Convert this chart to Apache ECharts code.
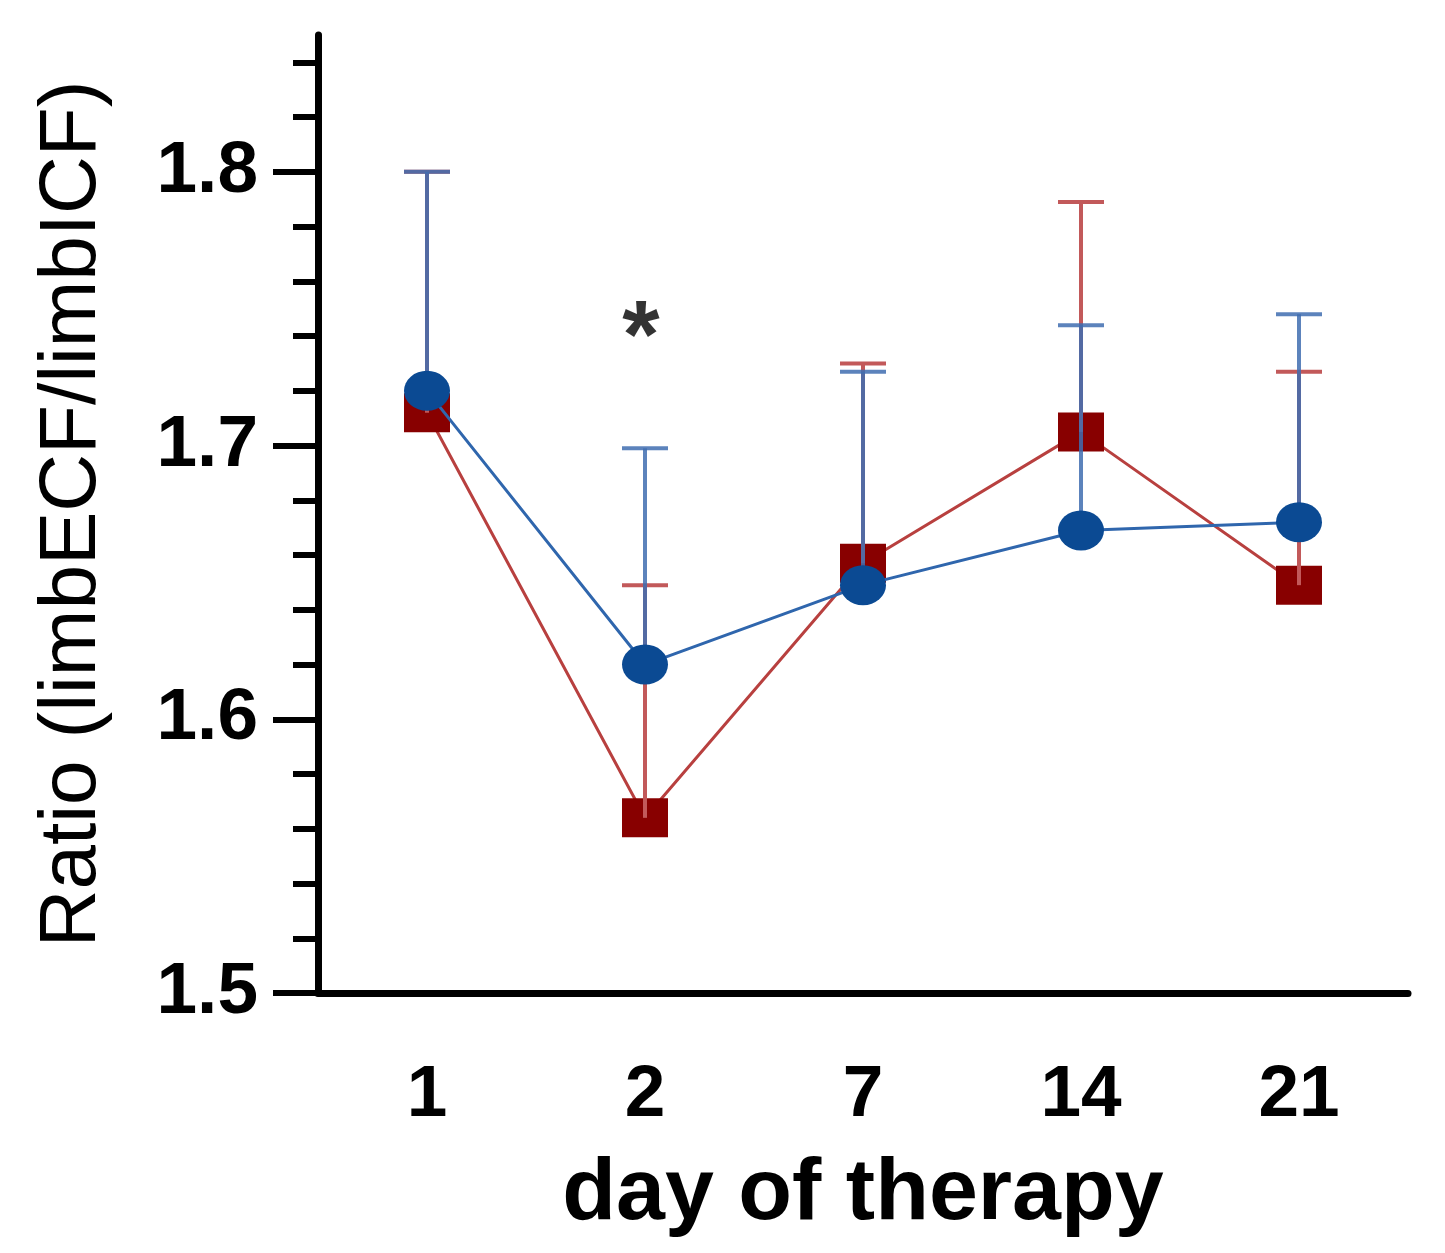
<!DOCTYPE html>
<html>
<head>
<meta charset="utf-8">
<title>limbECF/limbICF ratio</title>
<script src="https://cdn.jsdelivr.net/npm/echarts@6/dist/echarts.min.js"></script>
<style>
  html, body { margin: 0; padding: 0; background: #fff; }
  #main { width: 1445px; height: 1253px; }
</style>
</head>
<body>
<div id="main"></div>
<script>
// data
var days = ['1', '2', '7', '14', '21'];
var redMean = [1.712, 1.564, 1.657, 1.705, 1.649];
var redUpper = [1.800, 1.649, 1.730, 1.789, 1.727];
var blueMean = [1.720, 1.620, 1.649, 1.669, 1.672];
var blueUpper = [1.800, 1.699, 1.727, 1.744, 1.748];
// y axis ticks
var yMajor = [1.5, 1.6, 1.7, 1.8];
var yMinor = [1.52, 1.54, 1.56, 1.58, 1.62, 1.64, 1.66, 1.68,
              1.72, 1.74, 1.76, 1.78, 1.82, 1.84];
// significance mark
var starMarks = [[1, 1.745]];

var FONT = 'Liberation Sans';
var myChart = echarts.init(document.getElementById('main'));

function errData(mean, upper) {
    return mean.map(function (m, i) { return [i, m, upper[i]]; });
}

function errBar(color, opacity) {
    return function (params, api) {
        var p0 = api.coord([api.value(0), api.value(1)]);
        var p1 = api.coord([api.value(0), api.value(2)]);
        var half = 23;
        var st = { stroke: color, lineWidth: 4, opacity: opacity };
        return {
            type: 'group',
            children: [
                { type: 'line', shape: { x1: p0[0], y1: p0[1], x2: p1[0], y2: p1[1] }, style: st },
                { type: 'line', shape: { x1: p1[0] - half, y1: p1[1], x2: p1[0] + half, y2: p1[1] }, style: st }
            ]
        };
    };
}

var option = {
    animation: false,
    grid: { left: 318, right: 37, top: 35, bottom: 260 },
    xAxis: {
        type: 'category',
        data: days,
        boundaryGap: true,
        name: 'day of therapy',
        nameLocation: 'middle',
        nameGap: 158,
        nameTextStyle: { fontFamily: FONT, fontWeight: 'bold', fontSize: 88, color: '#000' },
        axisLine: { lineStyle: { color: '#000', width: 7 } },
        axisTick: { alignWithLabel: true, length: 33, lineStyle: { color: '#000', width: 7 } },
        axisLabel: { fontFamily: FONT, fontWeight: 'bold', fontSize: 73, color: '#000', margin: 66 },
        splitLine: { show: false }
    },
    yAxis: [
        {
            type: 'value',
            min: 1.5,
            max: 1.85,
            interval: 0.1,
            name: 'Ratio (limbECF/limbICF)',
            nameLocation: 'middle',
            nameRotate: 90,
            nameGap: 205,
            nameTextStyle: { fontFamily: FONT, fontSize: 80, color: '#000' },
            axisLine: { show: true, lineStyle: { color: '#000', width: 7 } },
            axisTick: { show: true, customValues: yMajor, length: 45, lineStyle: { color: '#000', width: 6 } },
            axisLabel: {
                customValues: yMajor,
                fontFamily: FONT, fontWeight: 'bold', fontSize: 73, color: '#000', margin: 60,
                formatter: function (v) { return v.toFixed(1); }
            },
            splitLine: { show: false }
        },
        {
            type: 'value',
            min: 1.5,
            max: 1.85,
            interval: 0.1,
            position: 'left',
            axisLine: { show: false },
            axisTick: { show: true, customValues: yMinor, length: 25, lineStyle: { color: '#000', width: 6 } },
            axisLabel: { show: false },
            splitLine: { show: false }
        }
    ],
    series: [
        {
            type: 'line',
            data: redMean,
            z: 2,
            symbol: 'rect',
            symbolSize: [46, 39],
            lineStyle: { color: '#b8403f', width: 3 },
            itemStyle: { color: '#880000' }
        },
        {
            type: 'custom',
            z: 3,
            renderItem: errBar('#c2595a', 1),
            data: errData(redMean, redUpper)
        },
        {
            type: 'custom',
            z: 4,
            renderItem: errBar('#3f6db0', 0.85),
            data: errData(blueMean, blueUpper)
        },
        {
            type: 'line',
            data: blueMean,
            z: 5,
            symbol: 'circle',
            symbolSize: [46, 40],
            lineStyle: { color: '#2f66ad', width: 3 },
            itemStyle: { color: '#0b4a93' }
        },
        {
            type: 'scatter',
            z: 6,
            symbolSize: 1,
            itemStyle: { color: 'rgba(0,0,0,0)' },
            label: {
                show: true,
                position: 'inside',
                formatter: '*',
                fontFamily: FONT,
                fontWeight: 'bold',
                fontSize: 96,
                color: '#000',
                textBorderWidth: 0,
                offset: [-4, 18]
            },
            data: starMarks
        }
    ]
};
myChart.setOption(option);
</script>
</body>
</html>
